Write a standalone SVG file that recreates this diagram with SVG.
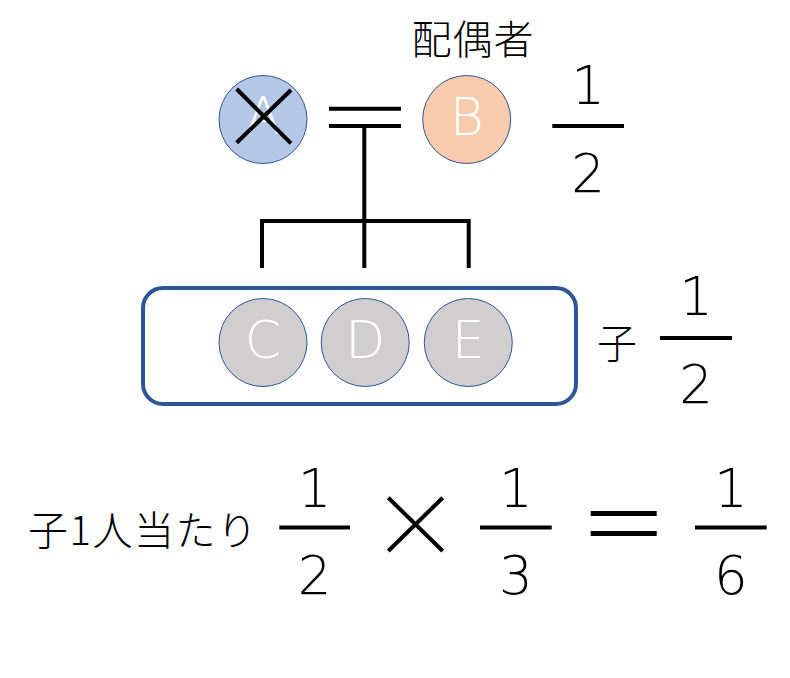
<svg xmlns="http://www.w3.org/2000/svg" width="790" height="678" viewBox="0 0 790 678">
<style>
.bg{fill:#ffffff}
.ln{stroke:#000;stroke-width:4;fill:none}
.eq{stroke:#000;stroke-width:5;fill:none}
.circ{stroke:#2F5597;stroke-width:1}
.lbl{font-family:"DejaVu Sans","Liberation Sans",sans-serif;font-weight:200;font-size:52px;fill:#fff;text-anchor:middle}
.num{font-family:"DejaVu Sans","Liberation Sans",sans-serif;font-weight:200;font-size:53px;fill:#000;text-anchor:middle}
.jp{font-family:"Noto Sans CJK JP",sans-serif;font-weight:300;font-size:40px;fill:#000}
</style>
<rect class="bg" x="0" y="0" width="790" height="678"/>
<g id="connectors">
<line class="ln" x1="329" y1="108.7" x2="401" y2="108.7"/>
<line class="ln" x1="329" y1="126" x2="401" y2="126"/>
<line class="ln" x1="364.3" y1="126" x2="364.3" y2="268"/>
<polyline class="ln" points="262,268 262,221 468.7,221 468.7,268"/>
</g>
<g id="nodeA">
<circle class="circ" cx="263" cy="119.5" r="44" fill="#B4C7E7"/>
<text class="lbl" x="263.3" y="134">A</text>
<line class="ln" x1="236.7" y1="89" x2="291" y2="143.3"/>
<line class="ln" x1="236.7" y1="142.7" x2="291" y2="90"/>
</g>
<g id="nodeB">
<circle class="circ" cx="466.7" cy="119.5" r="44" fill="#F8CBAD"/>
<text class="lbl" x="466.7" y="135">B</text>
</g>
<g id="spouseLabel">
<text class="jp" x="473" y="53.5" text-anchor="middle" letter-spacing="1">配偶者</text>
<text class="num" x="588" y="104.3">1</text>
<line class="ln" x1="552.3" y1="126" x2="624" y2="126"/>
<text class="num" x="588" y="191.7">2</text>
</g>
<g id="children">
<rect x="143" y="288" width="433" height="116" rx="20" ry="20" fill="none" stroke="#2F5597" stroke-width="4"/>
</g>
<g id="nodeC">
<circle class="circ" cx="263" cy="342.5" r="44" fill="#D0CECE"/>
<text class="lbl" x="263" y="358.3">C</text>
</g>
<g id="nodeD">
<circle class="circ" cx="365.2" cy="342.5" r="44" fill="#D0CECE"/>
<text class="lbl" x="365.2" y="358.3">D</text>
</g>
<g id="nodeE">
<circle class="circ" cx="468.3" cy="342.5" r="44" fill="#D0CECE"/>
<text class="lbl" x="468.3" y="358.3">E</text>
</g>
<g id="childLabel">
<text class="jp" x="617" y="358" text-anchor="middle">子</text>
<text class="num" x="696" y="315">1</text>
<line class="ln" x1="660" y1="338" x2="732" y2="338"/>
<text class="num" x="696" y="403.3">2</text>
</g>
<g id="formula">
<text class="jp" x="28" y="545" letter-spacing="1.5">子1人当たり</text>
<text class="num" x="314.7" y="507.3">1</text>
<line class="ln" x1="279.3" y1="527.5" x2="350" y2="527.5"/>
<text class="num" x="314.7" y="594">2</text>
<line class="ln" x1="388.3" y1="497.7" x2="442.7" y2="551"/>
<line class="ln" x1="388.3" y1="551" x2="442.7" y2="497.7"/>
<text class="num" x="515.8" y="507.3">1</text>
<line class="ln" x1="480" y1="527.5" x2="551.7" y2="527.5"/>
<text class="num" x="515.8" y="594">3</text>
<line class="eq" x1="590.7" y1="513.5" x2="656.7" y2="513.5"/>
<line class="eq" x1="590.7" y1="533.5" x2="656.7" y2="533.5"/>
<text class="num" x="730.8" y="507.3">1</text>
<line class="ln" x1="695" y1="527.5" x2="766.7" y2="527.5"/>
<text class="num" x="730.8" y="594">6</text>
</g>
</svg>
